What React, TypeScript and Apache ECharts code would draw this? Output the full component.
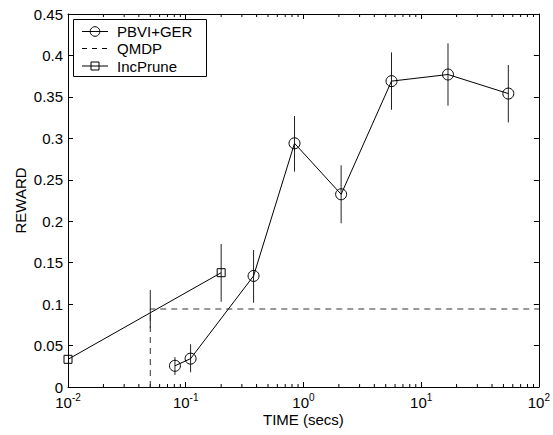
import React, { useEffect, useRef } from "react";
import * as echarts from "echarts";

const pbviX = [0.081, 0.11, 0.377, 0.84, 2.09, 5.6, 16.9, 55];
const pbviY = [0.0256, 0.0342, 0.134, 0.294, 0.2325, 0.369, 0.377, 0.354];
const pbviLo = [0.0145, 0.0178, 0.1017, 0.2598, 0.1975, 0.3345, 0.3394, 0.3192];
const pbviHi = [0.036, 0.0516, 0.1653, 0.327, 0.2675, 0.4037, 0.4146, 0.3885];

const qmdpX = [0.05, 0.05, 100];
const qmdpY = [0, 0.0941, 0.0941];
const qmdpErrX = [0.05];
const qmdpErrLo = [0.0709];
const qmdpErrHi = [0.117];

const incX = [0.01, 0.2];
const incY = [0.0334, 0.1379];
const incErrX = [0.2];
const incErrLo = [0.1029];
const incErrHi = [0.1725];

const legendNames = ["PBVI+GER", "QMDP", "IncPrune"];

const xMin = 0.01;
const xMax = 100;
const yMin = 0;
const yMax = 0.45;
const yInterval = 0.05;

const minorTickValues: number[] = [];
for (let e = -2; e < 2; e++) {
  for (let m = 2; m <= 9; m++) minorTickValues.push(m * Math.pow(10, e));
}

const FONT = "'Liberation Sans', Arial, Helvetica, sans-serif";

export default function App() {
  const ref = useRef<HTMLDivElement>(null);
  useEffect(() => {
    if (!ref.current) return;
    const chart = echarts.init(ref.current, undefined, { renderer: "svg" });
    const errData = [
      ...pbviX.map((x, i) => [x, pbviLo[i], pbviHi[i]]),
      ...qmdpErrX.map((x, i) => [x, qmdpErrLo[i], qmdpErrHi[i]]),
      ...incErrX.map((x, i) => [x, incErrLo[i], incErrHi[i]]),
    ];
    const axisCommon = {
      axisLine: { show: true, onZero: false, lineStyle: { color: "#000", width: 1 } },
      splitLine: { show: false },
    };
    const tick = { show: true, inside: true, length: 5, lineStyle: { color: "#000" } };

    const lx1 = 82, lx2 = 108, tx = 117;
    const rows = [31.5, 48.5, 66];
    const legendGraphic: any[] = [
      { type: "rect", shape: { x: 73.5, y: 19.5, width: 133, height: 57 }, style: { fill: "#fff", stroke: "#000", lineWidth: 1 }, z: 100 },
      { type: "line", shape: { x1: lx1, y1: rows[0], x2: lx2, y2: rows[0] }, style: { stroke: "#000", lineWidth: 1 }, z: 101 },
      { type: "circle", shape: { cx: 95, cy: rows[0], r: 4.8 }, style: { fill: "none", stroke: "#000", lineWidth: 1 }, z: 102 },
      { type: "line", shape: { x1: lx1, y1: rows[1], x2: lx2, y2: rows[1] }, style: { stroke: "#000", lineWidth: 1, lineDash: [5, 5] }, z: 101 },
      { type: "line", shape: { x1: lx1, y1: rows[2], x2: lx2, y2: rows[2] }, style: { stroke: "#000", lineWidth: 1 }, z: 101 },
      { type: "rect", shape: { x: 91, y: rows[2] - 4, width: 8, height: 8 }, style: { fill: "none", stroke: "#000", lineWidth: 1 }, z: 102 },
      ...legendNames.map((n, i) => ({
        type: "text",
        x: tx,
        y: rows[i],
        z: 102,
        style: { text: n, fill: "#000", font: `15px ${FONT}`, verticalAlign: "middle", align: "left" },
      })),
    ];

    chart.setOption({
      animation: false,
      backgroundColor: "#fff",
      textStyle: { fontFamily: FONT },
      grid: { left: 68, right: 13, top: 14, bottom: 48 },
      graphic: legendGraphic,
      xAxis: [
        {
          type: "log",
          logBase: 10,
          min: xMin,
          max: xMax,
          position: "bottom",
          ...axisCommon,
          axisTick: tick,
          axisLabel: {
            margin: 5,
            color: "#000",
            formatter: (v: number) => {
              const e = Math.round(Math.log10(v));
              return `{b|10}{s|${e}}`;
            },
            rich: {
              b: { fontSize: 15, fontFamily: FONT, color: "#000", verticalAlign: "bottom", lineHeight: 15 },
              s: { fontSize: 10, fontFamily: FONT, color: "#000", verticalAlign: "top", padding: [0, 0, 8, 0] },
            },
          },
          name: "TIME (secs)",
          nameLocation: "middle",
          nameGap: 25,
          nameMoveOverlap: false,
          nameTextStyle: { fontSize: 15, color: "#000", fontFamily: FONT },
        },
        {
          type: "log",
          logBase: 10,
          min: xMin,
          max: xMax,
          position: "top",
          ...axisCommon,
          axisTick: tick,
          axisLabel: { show: false },
        },
      ],
      yAxis: [
        {
          type: "value",
          min: yMin,
          max: yMax,
          interval: yInterval,
          position: "left",
          ...axisCommon,
          axisTick: tick,
          axisLabel: { fontSize: 15, color: "#000", margin: 5, fontFamily: FONT },
          name: "REWARD",
          nameLocation: "middle",
          nameGap: 40,
          nameMoveOverlap: false,
          nameTextStyle: { fontSize: 15, color: "#000", fontFamily: FONT },
        },
        {
          type: "value",
          min: yMin,
          max: yMax,
          interval: yInterval,
          position: "right",
          ...axisCommon,
          axisTick: tick,
          axisLabel: { show: false },
        },
      ],
      series: [
        {
          name: "minorTicks",
          type: "custom",
          silent: true,
          xAxisIndex: 0,
          yAxisIndex: 0,
          data: minorTickValues.map((v) => [v, yMin]),
          renderItem: (params: any, api: any) => {
            const b = api.coord([api.value(0), yMin]);
            const t = api.coord([api.value(0), yMax]);
            return {
              type: "group",
              children: [
                { type: "line", shape: { x1: b[0], y1: b[1], x2: b[0], y2: b[1] - 3 }, style: { stroke: "#000", lineWidth: 1 } },
                { type: "line", shape: { x1: t[0], y1: t[1], x2: t[0], y2: t[1] + 3 }, style: { stroke: "#000", lineWidth: 1 } },
              ],
            };
          },
        },
        {
          name: "QMDP",
          type: "line",
          data: qmdpX.map((x, i) => [x, qmdpY[i]]),
          symbol: "none",
          clip: false,
          color: "#000",
          lineStyle: { color: "#333", width: 1, type: [6, 5] },
        },
        {
          name: "IncPrune",
          type: "line",
          data: incX.map((x, i) => [x, incY[i]]),
          symbol: "rect",
          symbolSize: 8,
          clip: false,
          color: "#000",
          itemStyle: { color: "rgba(0,0,0,0)", borderColor: "#000", borderWidth: 1 },
          lineStyle: { color: "#000", width: 1 },
        },
        {
          name: "PBVI+GER",
          type: "line",
          data: pbviX.map((x, i) => [x, pbviY[i]]),
          symbol: "circle",
          symbolSize: 11,
          clip: false,
          color: "#000",
          itemStyle: { color: "rgba(0,0,0,0)", borderColor: "#000", borderWidth: 1 },
          lineStyle: { color: "#000", width: 1 },
        },
        {
          name: "errors",
          type: "custom",
          silent: true,
          data: errData,
          encode: { x: 0, y: [1, 2] },
          renderItem: (params: any, api: any) => {
            const x = api.value(0);
            const p1 = api.coord([x, api.value(1)]);
            const p2 = api.coord([x, api.value(2)]);
            return {
              type: "line",
              shape: { x1: p1[0], y1: p1[1], x2: p2[0], y2: p2[1] },
              style: { stroke: "#222", lineWidth: 1 },
            };
          },
        },
      ],
    });
    return () => chart.dispose();
  }, []);
  return <div ref={ref} style={{ position: "absolute", left: 0, top: 0, width: 553, height: 435 }} />;
}
